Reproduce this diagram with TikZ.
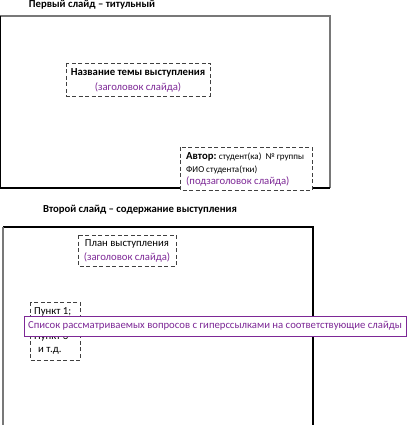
\documentclass[tikz,border=0pt]{standalone}
\usepackage{fontspec}
\setmainfont{Carlito}
\definecolor{purp}{RGB}{125,40,150}
\definecolor{edgegray}{RGB}{120,120,120}
\begin{document}
\begin{tikzpicture}[x=1pt,y=-1pt,
  dbox/.style={draw=black!75,dashed,dash pattern=on 4pt off 2.5pt,line width=0.9pt},
  heading/.style={font=\fontsize{10.7}{12}\selectfont\bfseries,inner sep=0pt},
  txt/.style={inner sep=0pt,font=\fontsize{10.7}{12}\selectfont},
  ptxt/.style={inner sep=0pt,font=\fontsize{10.7}{12}\selectfont,text=purp},
  stxt/.style={inner sep=0pt,font=\fontsize{9}{10}\selectfont,anchor=west}]
\useasboundingbox (0,0) rectangle (408,425);
% slide 1
\node[heading,anchor=north] (t1) at (92,0.3) {Первый слайд – титульный};
\draw[edgegray,line width=1.4pt] (0,16) -- (330,16) -- (330,188);
\draw[black,line width=1.4pt] (0.7,16) -- (0.7,188) -- (330,188);
\draw[dbox] (66,63) rectangle (210,96);
\node[txt,font=\fontsize{10.7}{12}\selectfont\bfseries] (n1) at (138,73) {Название темы выступления};
\node[ptxt] (n1b) at (138,87) {(заголовок слайда)};
\draw[dbox,fill=white] (180,147) rectangle (312,190);
\node[stxt,font=\fontsize{10.7}{12}\selectfont\bfseries] (a1) at (186,157) {Автор:};
\node[stxt,anchor=base west] (a2) at (a1.base east) {\ студент(ка)\ \ № группы};
\node[stxt] (a3) at (186,169.5) {ФИО студента(тки)};
\node[ptxt,anchor=west] (a4) at (186,181.5) {(подзаголовок слайда)};
% slide 2
\node[heading] (t2) at (140,210) {Второй слайд – содержание выступления};
\draw[black,line width=1.2pt] (3,227) -- (313,227) -- (313,425);
\draw[edgegray,line width=1.4pt] (3,227) -- (3,425);
\draw[dbox] (78,235) rectangle (176,266);
\node[txt] (p1) at (127,244) {План выступления};
\node[ptxt] (p2) at (127,257) {(заголовок слайда)};
\draw[dbox] (30,302) rectangle (80,360);
\node[txt,anchor=west] (q1) at (34,312) {Пункт 1;};
\node[txt,anchor=west] (q3) at (34,337) {Пункт 3};
\node[txt,anchor=west] (q4) at (38,351) {и т.д.};
\node[draw=purp,line width=0.8pt,fill=white,minimum width=382pt,minimum height=20pt,inner sep=0pt] (lst) at (215,326) {};
\node[ptxt] (lt) at (lst.center) {Список рассматриваемых вопросов с гиперссылками на соответствующие слайды};
\end{tikzpicture}
\end{document}
